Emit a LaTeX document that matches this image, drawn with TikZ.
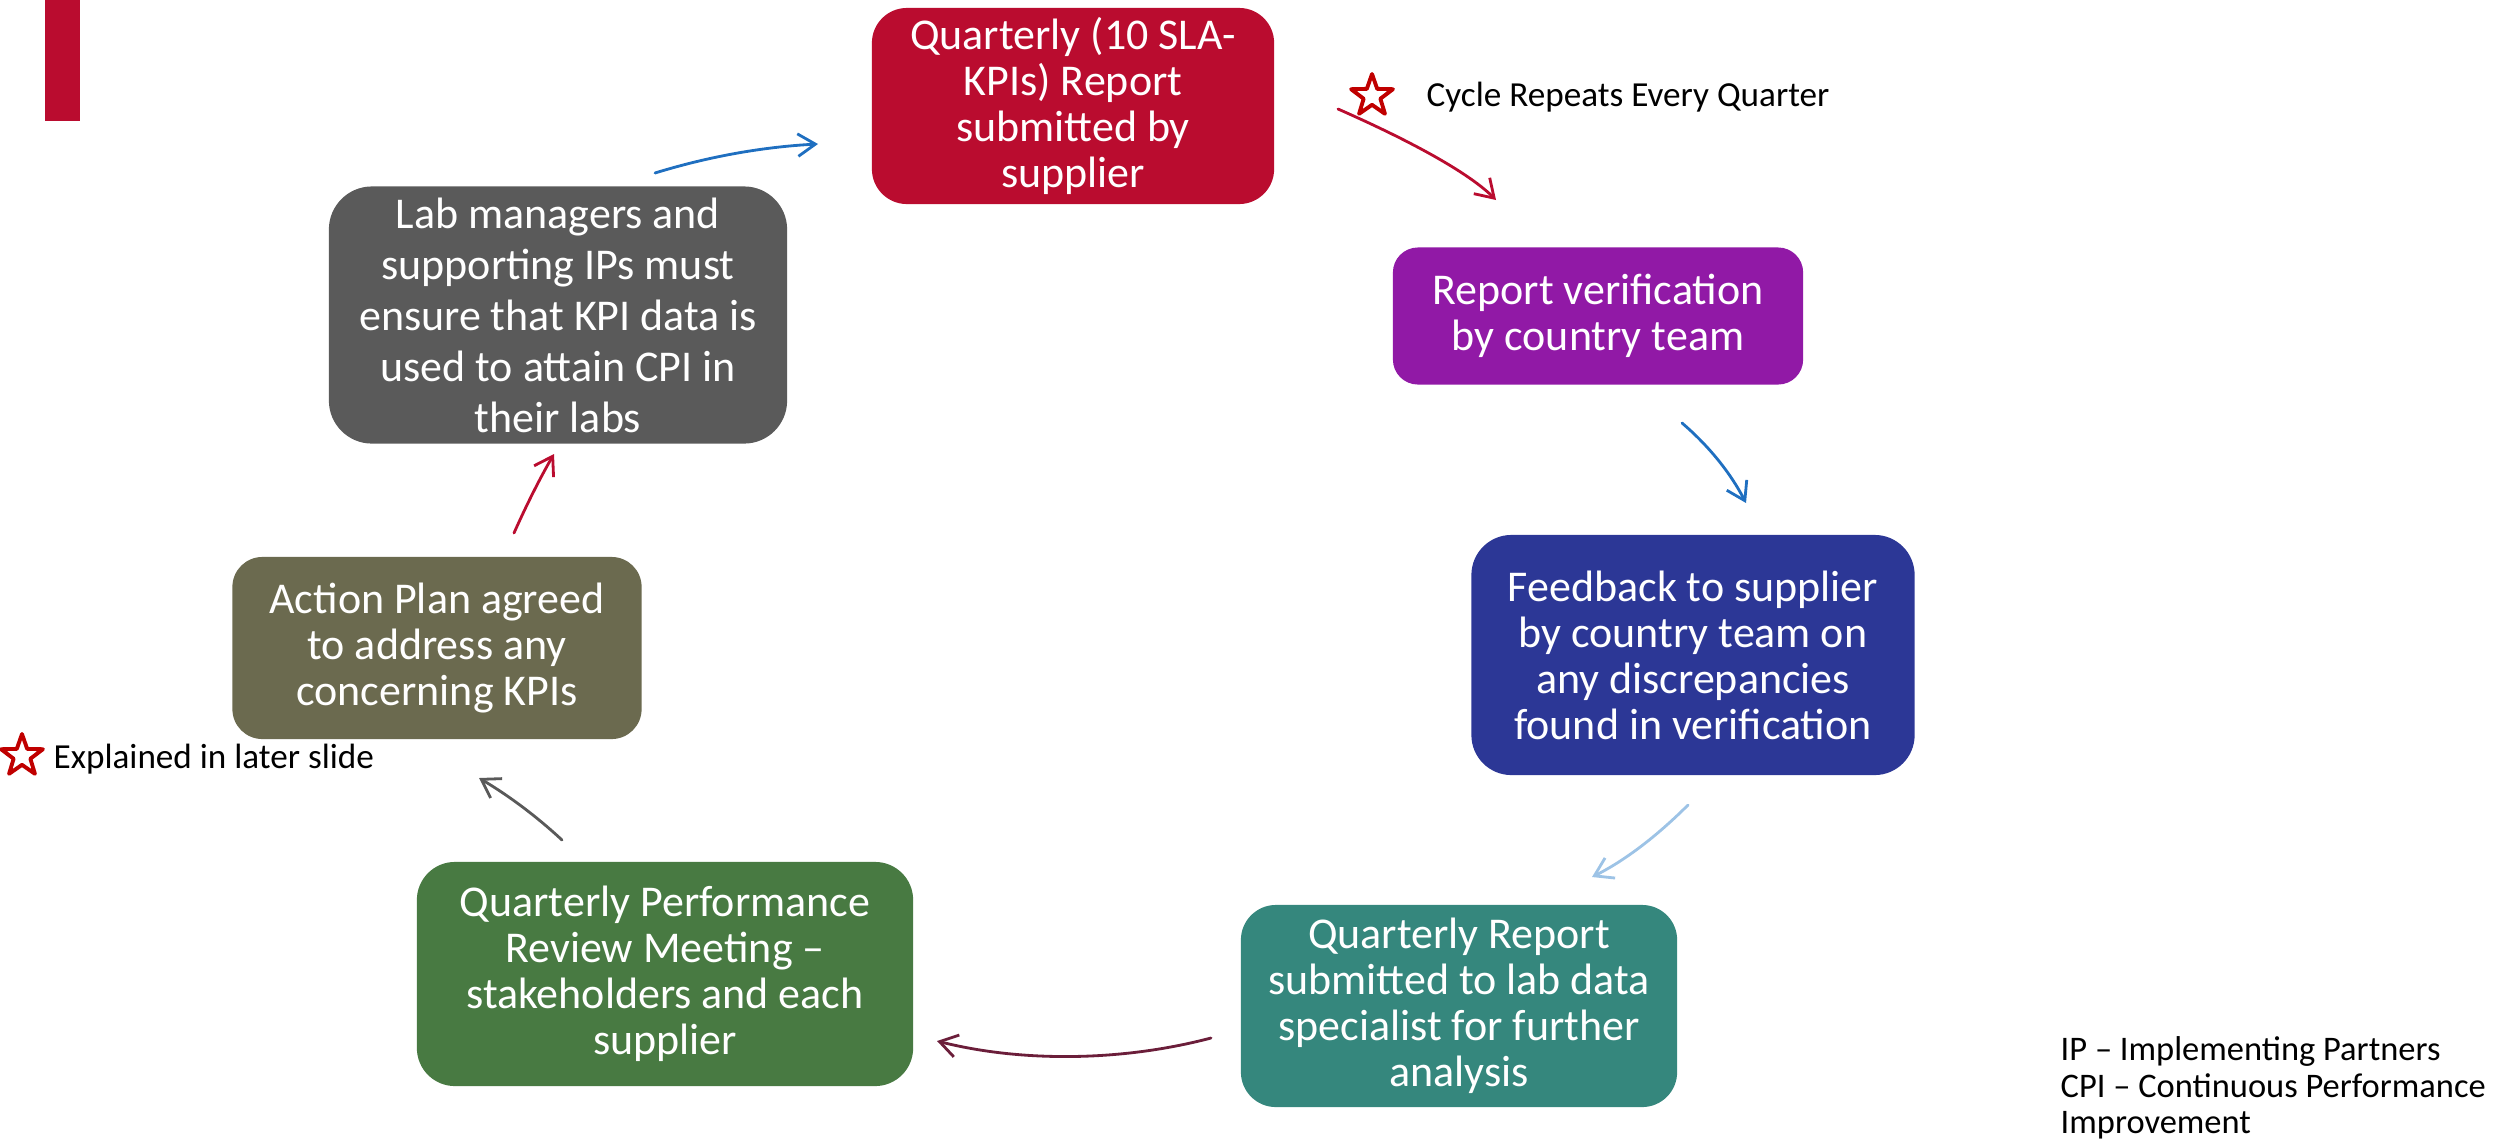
\documentclass[tikz,border=0pt]{standalone}
\usepackage{fontspec}
\setmainfont{Carlito}
\usetikzlibrary{arrows.meta,shapes.geometric}
\definecolor{Crimson}{HTML}{BA0C2F}
\definecolor{Violet}{HTML}{9119A6}
\definecolor{Navy}{HTML}{2C3796}
\definecolor{Teal}{HTML}{35877D}
\definecolor{Leaf}{HTML}{487A42}
\definecolor{Olive}{HTML}{6B6A4F}
\definecolor{Slate}{HTML}{5A5A5A}
\definecolor{Ablue}{HTML}{1F6FC0}
\definecolor{Apale}{HTML}{9DC3E6}
\definecolor{Awine}{HTML}{6B1E3A}
\definecolor{Agray}{HTML}{595959}
\definecolor{Starred}{HTML}{C00000}

\begin{document}
\begin{tikzpicture}[x=0.01cm,y=-0.01cm,line cap=round,line join=round,
  stage/.style={rounded corners=0.35cm,text=white,align=center,inner sep=0pt,
    font=\fontsize{12.5}{13.1}\selectfont},
  flow/.style={line width=0.8pt,-{Straight Barb[length=5pt,width=6.4pt]}},
  note/.style={anchor=base west,inner sep=0pt,font=\fontsize{10}{10.6}\selectfont},
  starmark/.style={star,star points=5,star point ratio=2.5,draw=Starred,
    line width=1.1pt,minimum size=0.44cm,inner sep=0pt}]
\useasboundingbox (0,0) rectangle (2504,1145);

% ---- title bar ----
\fill[Crimson] (45,0) rectangle (80,121);

% ---- the seven stages of the cycle ----
\node[stage,fill=Crimson,minimum width=4.02cm,minimum height=1.96cm] (rep) at (1073,106)
  {Quarterly (10 SLA-\\KPIs) Report\\submitted by\\supplier};
\node[stage,fill=Violet,minimum width=4.10cm,minimum height=1.37cm,rounded corners=0.25cm] (ver) at (1598,316)
  {Report verification\\by country team};
\node[stage,fill=Navy,minimum width=4.43cm,minimum height=2.40cm,rounded corners=0.4cm] (fbk) at (1693,655)
  {Feedback to supplier\\by country team on\\any discrepancies\\found in verification};
\node[stage,fill=Teal,minimum width=4.36cm,minimum height=2.02cm] (lab) at (1459,1006)
  {Quarterly Report\\submitted to lab data\\specialist for further\\analysis};
\node[stage,fill=Leaf,minimum width=4.96cm,minimum height=2.24cm,rounded corners=0.38cm] (qpr) at (665,974)
  {Quarterly Performance\\Review Meeting --\\stakeholders and each\\supplier};
\node[stage,fill=Olive,minimum width=4.09cm,minimum height=1.82cm,rounded corners=0.3cm] (act) at (437,648)
  {Action Plan agreed\\to address any\\concerning KPIs};
\node[stage,fill=Slate,minimum width=4.58cm,minimum height=2.57cm,rounded corners=0.43cm,
  font=\fontsize{12.5}{14.5}\selectfont] (mgr) at (558,315)
  {Lab managers and\\supporting IPs must\\ensure that KPI data is\\used to attain CPI in\\their labs};

% ---- arrow ends ----
\coordinate (mgr-o) at (655,173);  \coordinate (rep-i) at (818,144);
\coordinate (rep-o) at (1338,109); \coordinate (ver-i) at (1496,200);
\coordinate (ver-o) at (1682,423); \coordinate (fbk-i) at (1746,503);
\coordinate (fbk-o) at (1688,805); \coordinate (lab-i) at (1592,877);
\coordinate (lab-o) at (1211,1038);\coordinate (qpr-i) at (937,1041);
\coordinate (qpr-o) at (562,840);  \coordinate (act-i) at (479,778);
\coordinate (act-o) at (514,533);  \coordinate (mgr-i) at (554,454);

\draw[flow,Ablue]   (mgr-o) .. controls (707,157) and (761,147) .. (rep-i);
\draw[flow,Crimson] (rep-o) .. controls (1422,146) and (1472,176) .. (ver-i);
\draw[flow,Ablue]   (ver-o) .. controls (1710,447) and (1731,474) .. (fbk-i);
\draw[flow,Apale]   (fbk-o) .. controls (1656,837) and (1624,861) .. (lab-i);
\draw[flow,Awine]   (lab-o) .. controls (1120,1062) and (1020,1062) .. (qpr-i);
\draw[flow,Agray]   (qpr-o) .. controls (534,814) and (506,794) .. (act-i);
\draw[flow,Crimson] (act-o) .. controls (526,506) and (540,478) .. (mgr-i);

% ---- notes ----
\node[starmark] (s1) at (1372,96) {};
\node[note] (cyc) at (1426,106) {Cycle Repeats Every Quarter};
\node[starmark] (s2) at (22,756) {};
\node[note] (later) at (53,768) {Explained in later slide};
\node[note,anchor=north west,align=left,font=\fontsize{9.8}{10.4}\selectfont] (key) at (2060,1036)
  {IP -- Implementing Partners\\CPI -- Continuous Performance\\Improvement};
\end{tikzpicture}
\end{document}
